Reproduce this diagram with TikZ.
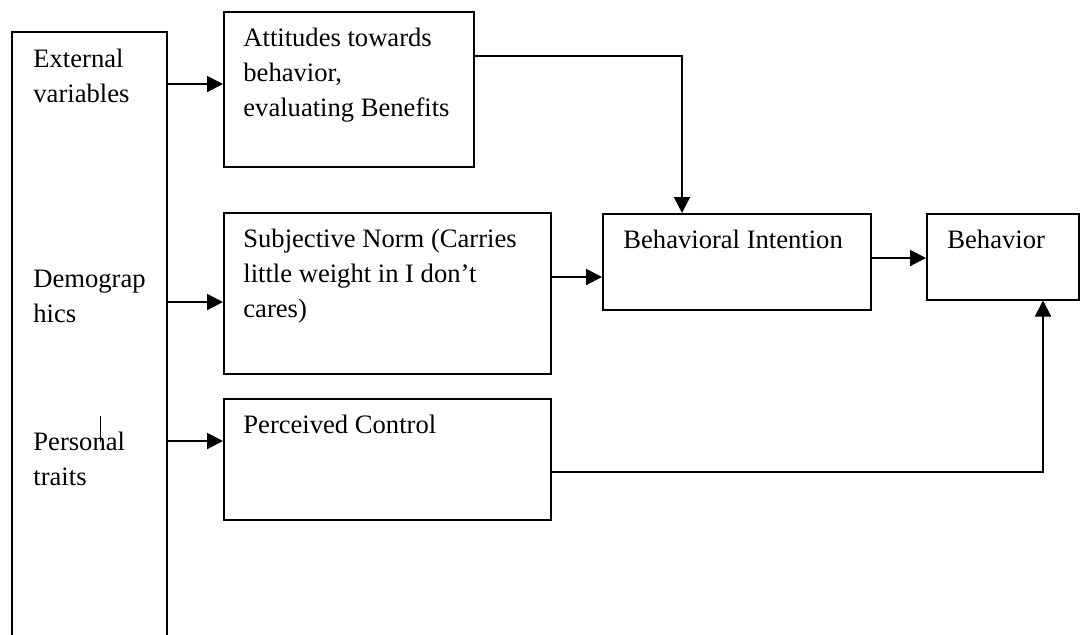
\documentclass[tikz,border=0pt]{standalone}
\usepackage{fontspec}
\setmainfont{Liberation Serif}
\usetikzlibrary{arrows.meta}

\begin{document}
\begin{tikzpicture}[x=0.5pt,y=-0.5pt,
  box/.style={draw,line width=0.75pt,anchor=north west,inner sep=0pt},
  txt/.style={anchor=north west,align=left,inner sep=0pt,font=\fontsize{13.3}{17.5}\selectfont},
  arr/.style={line width=1pt,-{Triangle[length=8pt,width=8pt]}}]
\useasboundingbox (0,0) rectangle (1086,634);
% left column, open at the bottom
\node[anchor=north west,inner sep=0pt,minimum width=77pt,minimum height=301pt] (vars) at (12,32) {};
\draw[line width=0.75pt] (vars.south west) -- (vars.north west) -- (vars.north east) -- (vars.south east);
\node[txt] (ext) at (33,49) {External\\variables};
\node[txt] (demo) at (33,270) {Demograp\\hics};
\node[txt] (pers) at (33,432) {Personal\\traits};
\draw[line width=0.5pt] (100,416) -- (100,442);
  \foreach \nm/\px/\py/\bw/\bh in {att/223/11/125/77.5,subj/223/212/163.5/80.5,perc/223/398/163.5/60.5,bi/602/213/134/48,beh/926/213/76/43}
  {  \node[box,minimum width=\bw pt,minimum height=\bh pt] (\nm) at (\px,\py) {};}
\node[txt] (att-t) at ([xshift=10pt,yshift=-8.5pt]att.north west) {Attitudes towards\\behavior,\\evaluating Benefits};
\node[txt] (subj-t) at ([xshift=10pt,yshift=-8.5pt]subj.north west) {Subjective Norm (Carries\\little weight in I don’t\\cares)};
\node[txt] (perc-t) at ([xshift=10pt,yshift=-8.5pt]perc.north west) {Perceived Control};
\node[txt] (bi-t) at ([xshift=10.5pt,yshift=-8.5pt]bi.north west) {Behavioral Intention};
\node[txt] (beh-t) at ([xshift=10.5pt,yshift=-8.5pt]beh.north west) {Behavior};
% connectors
  \foreach \y/\trg in {84/att,302/subj,441/perc}
  {  \coordinate (v\trg) at (166,\y);
     \draw[arr] (v\trg) -- (v\trg -| \trg.west);}
\coordinate (a1) at ([yshift=-22.5pt]att.north east);
\draw[arr] (a1) -| ([xshift=40pt]bi.north west);
\coordinate (s1) at ([yshift=-32.5pt]subj.north east);
\draw[arr] (s1) -- (s1 -| bi.west);
\coordinate (b1) at ([yshift=-22.5pt]bi.north east);
\draw[arr] (b1) -- (b1 -| beh.west);
\coordinate (p1) at ([yshift=-37pt]perc.north east);
\draw[arr] (p1) -| ([xshift=58.5pt]beh.south west);
\end{tikzpicture}
\end{document}
